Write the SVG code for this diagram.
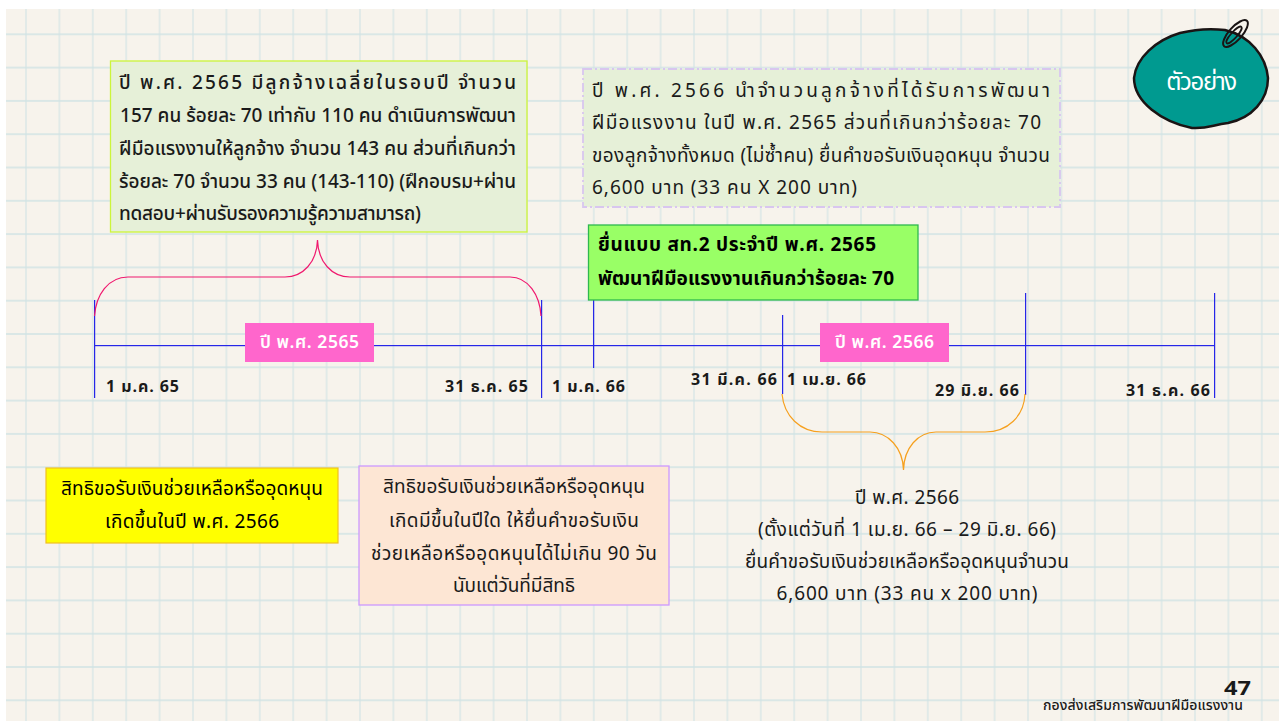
<svg xmlns="http://www.w3.org/2000/svg" width="1279" height="721" viewBox="0 0 1279 721">
<defs>
<pattern id="grid" patternUnits="userSpaceOnUse" x="9.3" y="17.65" width="33.4" height="33.3">
<path d="M16.7 0V33.3" fill="none" stroke="#d0e3e4" stroke-width="1.1"/>
<path d="M0 16.65H33.4" fill="none" stroke="#d0e3e4" stroke-width="1.4"/>
</pattern>
</defs>
<style>
text{font-family:"Noto Sans Thai","Sarabun","Liberation Sans","Noto Sans",sans-serif;fill:#1a1a1a}
.b{font-size:19px;font-weight:500}
.r{font-weight:400}
.c{text-anchor:middle}
.d{font-size:16px;font-weight:700}
.h{font-size:17.500px;font-weight:600;fill:#fff;text-anchor:middle}
.tick{fill:#2626e8}
</style>
<rect width="1279" height="721" fill="#fff"/>
<rect x="6" y="9" width="1273" height="712" fill="#f7f3ec"/>
<rect x="6" y="9" width="1273" height="712" fill="url(#grid)"/>
<g id="connectors">
<rect class="tick" x="94" y="300" width="1.200" height="98"/>
<rect class="tick" x="541" y="300" width="1.200" height="98"/>
<rect class="tick" x="593" y="300" width="1.200" height="68"/>
<rect class="tick" x="782" y="315" width="1.200" height="79"/>
<rect class="tick" x="1025" y="293" width="1.200" height="102"/>
<rect class="tick" x="1214" y="293" width="1.200" height="105"/>
<rect class="tick" x="94" y="345" width="1120" height="1.200"/>
<path d="M94.500 316C96 295 108 277 128 277H285C303 277 317 262 317.500 240C318 262 332 277 350 277H510C528 277 540 295 541 316" fill="none" stroke="#f0186e" stroke-width="1.200"/>
<path d="M782 394C784 416 800 432 822 432H870C888 432 903 448 903.500 470C904 448 918 432 936 432H985C1008 432 1024 416 1025 394" fill="none" stroke="#f6a01e" stroke-width="1.200"/>
</g>
<g id="box-2565">
<rect x="110.500" y="61" width="416.500" height="171" fill="#e6f0d8" stroke="#ccf53a" stroke-width="1.300"/>
<text class="b" x="119" y="89" textLength="397">ปี พ.ศ. 2565 มีลูกจ้างเฉลี่ยในรอบปี จำนวน</text>
<text class="b" x="120" y="122" textLength="396">157 คน ร้อยละ 70 เท่ากับ 110 คน ดำเนินการพัฒนา</text>
<text class="b" x="119" y="155" textLength="397">ฝีมือแรงงานให้ลูกจ้าง จำนวน 143 คน ส่วนที่เกินกว่า</text>
<text class="b" x="119" y="188" textLength="397">ร้อยละ 70 จำนวน 33 คน (143-110) (ฝึกอบรม+ผ่าน</text>
<text class="b" x="119" y="220" textLength="302">ทดสอบ+ผ่านรับรองความรู้ความสามารถ)</text>
</g>
<g id="box-2566">
<rect x="583" y="69" width="477" height="138" fill="#e6f0d8" stroke="#d8c6ef" stroke-width="1.800" stroke-dasharray="9 3 2 3"/>
<text class="b r" x="592" y="97" textLength="458">ปี พ.ศ. 2566 นำจำนวนลูกจ้างที่ได้รับการพัฒนา</text>
<text class="b r" x="592" y="129" textLength="449">ฝีมือแรงงาน ในปี พ.ศ. 2565 ส่วนที่เกินกว่าร้อยละ 70</text>
<text class="b r" x="592" y="162" textLength="458">ของลูกจ้างทั้งหมด (ไม่ซ้ำคน) ยื่นคำขอรับเงินอุดหนุน จำนวน</text>
<text class="b r" x="592" y="194" textLength="265">6,600 บาท (33 คน X 200 บาท)</text>
</g>
<g id="box-form">
<rect x="588.500" y="225" width="329.500" height="75" fill="#99ff66" stroke="#2fb84f" stroke-width="1.300"/>
<text class="b" x="598" y="251" textLength="278" style="font-weight:700;fill:#000">ยื่นแบบ สท.2 ประจำปี พ.ศ. 2565</text>
<text class="b" x="598" y="285" textLength="296" style="font-weight:700;fill:#000">พัฒนาฝีมือแรงงานเกินกว่าร้อยละ 70</text>
</g>
<g id="year-2565"><rect x="245" y="323" width="129" height="39" fill="#ff66cc"/><text class="h" x="309.500" y="348" textLength="99">ปี พ.ศ. 2565</text></g>
<g id="year-2566"><rect x="820" y="323" width="129" height="39" fill="#ff66cc"/><text class="h" x="884.500" y="348" textLength="99">ปี พ.ศ. 2566</text></g>
<g id="date-1"><text class="d" x="106" y="392" textLength="73">1 ม.ค. 65</text></g>
<g id="date-2"><text class="d" x="445" y="392" textLength="83">31 ธ.ค. 65</text></g>
<g id="date-3"><text class="d" x="552" y="392" textLength="73">1 ม.ค. 66</text></g>
<g id="date-4"><text class="d" x="691" y="385" textLength="86">31 มี.ค. 66</text></g>
<g id="date-5"><text class="d" x="787" y="385" textLength="79">1 เม.ย. 66</text></g>
<g id="date-6"><text class="d" x="935" y="396" textLength="84">29 มิ.ย. 66</text></g>
<g id="date-7"><text class="d" x="1126" y="396" textLength="84">31 ธ.ค. 66</text></g>
<g id="box-yellow">
<rect x="46" y="468" width="292" height="75" fill="#ffff00" stroke="#f0c020" stroke-width="1.200"/>
<text class="b r c" x="192" y="495" style="fill:#000" textLength="262">สิทธิขอรับเงินช่วยเหลือหรืออุดหนุน</text>
<text class="b r c" x="192" y="528" style="fill:#000" textLength="174">เกิดขึ้นในปี พ.ศ. 2566</text>
</g>
<g id="box-peach">
<rect x="359" y="466" width="310" height="139" fill="#fde6d4" stroke="#cc99ff" stroke-width="1.300"/>
<text class="b r c" x="514" y="493" textLength="262">สิทธิขอรับเงินช่วยเหลือหรืออุดหนุน</text>
<text class="b r c" x="514" y="527" textLength="250">เกิดมีขึ้นในปีใด ให้ยื่นคำขอรับเงิน</text>
<text class="b r c" x="514" y="560" textLength="286">ช่วยเหลือหรืออุดหนุนได้ไม่เกิน 90 วัน</text>
<text class="b r c" x="514" y="592" textLength="122">นับแต่วันที่มีสิทธิ</text>
</g>
<g id="note-2566">
<text class="b r c" x="907" y="504" textLength="104">ปี พ.ศ. 2566</text>
<text class="b r c" x="907" y="536" textLength="298">(ตั้งแต่วันที่ 1 เม.ย. 66 – 29 มิ.ย. 66)</text>
<text class="b r c" x="907" y="568" textLength="324">ยื่นคำขอรับเงินช่วยเหลือหรืออุดหนุนจำนวน</text>
<text class="b r c" x="907" y="600" textLength="261">6,600 บาท (33 คน x 200 บาท)</text>
</g>
<g id="badge">
<path d="M1134 78C1136 58 1156 40 1180 33C1196 29 1208 28 1225 30C1250 36 1266 56 1268 78C1268 100 1252 118 1228 123C1212 125 1208 129 1192 128C1162 122 1134 102 1134 78Z" fill="#009a90" stroke="#1a1414" stroke-width="2.500"/>
<ellipse cx="1235.500" cy="33.500" rx="6.500" ry="17" transform="rotate(42 1235.500 33.500)" fill="none" stroke="#1a1414" stroke-width="2"/>
<ellipse cx="1234" cy="35" rx="3" ry="11" transform="rotate(42 1234 35)" fill="none" stroke="#1a1414" stroke-width="1.800"/>
<text class="c" x="1201" y="90" style="font-size:24px;fill:#fff" textLength="71">ตัวอย่าง</text>
</g>
<g id="footer">
<text x="1224" y="695" style="font-size:19px;font-weight:700" textLength="27" lengthAdjust="spacingAndGlyphs">47</text>
<text x="1043" y="710" style="font-size:14px;font-weight:500" textLength="200">กองส่งเสริมการพัฒนาฝีมือแรงงาน</text>
</g>
</svg>
